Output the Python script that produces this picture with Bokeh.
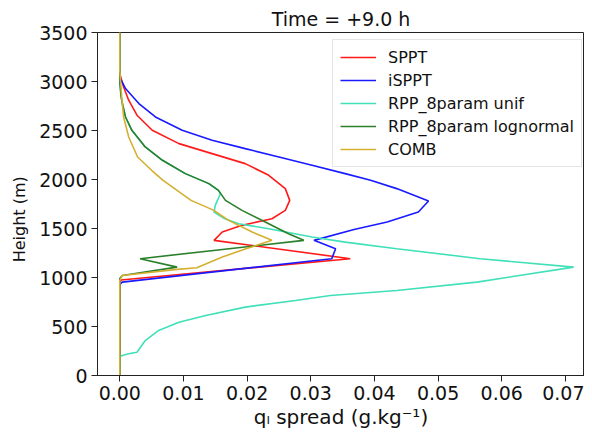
from bokeh.plotting import figure
from bokeh.models import Range1d, FixedTicker, NumeralTickFormatter, Legend, LegendItem
from bokeh.embed import file_html
from bokeh.resources import INLINE

# ---- data ----
sppt_h = [3500, 3080, 2944, 2809, 2656, 2502, 2366, 2264, 2162, 2043, 1907, 1787, 1685, 1600, 1532, 1464, 1379, 1192, 975, 940, 0]
sppt_q = [0, 0, 0.0006, 0.0014, 0.0027, 0.0051, 0.0093, 0.0145, 0.0197, 0.0234, 0.0260, 0.0267, 0.0260, 0.0239, 0.0192, 0.0161, 0.0148, 0.0362, 0.0002, 0, 0]

isppt_h = [3500, 3100, 3030, 2928, 2775, 2638, 2502, 2400, 2315, 2230, 2145, 2060, 1992, 1907, 1780, 1668, 1566, 1490, 1379, 1294, 1192, 953, 930, 0]
isppt_q = [0, 0, 0.0001, 0.0009, 0.0030, 0.0056, 0.0098, 0.0145, 0.0197, 0.0250, 0.0302, 0.0354, 0.0394, 0.0435, 0.0485, 0.0469, 0.0420, 0.0368, 0.0305, 0.0339, 0.0333, 0.0004, 0, 0]

unif_h = [3500, 3000, 2850, 2775, 2638, 2502, 2332, 2196, 2060, 1958, 1889, 1855, 1736, 1668, 1600, 1549, 1498, 1413, 1361, 1294, 1192, 1106, 953, 868, 817, 766, 698, 613, 544, 460, 357, 238, 222, 204, 190, 0]
unif_q = [0, 0, 0.0002, 0.0004, 0.0009, 0.0019, 0.0040, 0.0067, 0.0103, 0.0140, 0.0155, 0.0158, 0.0150, 0.0148, 0.0165, 0.0187, 0.0234, 0.0302, 0.0354, 0.0435, 0.0566, 0.0713, 0.0561, 0.0435, 0.0331, 0.0276, 0.0197, 0.0135, 0.0093, 0.0061, 0.0040, 0.0027, 0.0014, 0.0004, 0, 0]

logn_h = [3500, 3000, 2850, 2775, 2638, 2502, 2332, 2196, 2060, 1958, 1889, 1787, 1685, 1549, 1447, 1379, 1192, 1106, 1021, 990, 0]
logn_q = [0, 0, 0.0002, 0.0004, 0.0009, 0.0019, 0.0040, 0.0067, 0.0103, 0.0140, 0.0155, 0.0166, 0.0192, 0.0234, 0.0265, 0.0289, 0.0032, 0.0090, 0.0004, 0, 0]

comb_h = [3500, 3115, 2843, 2638, 2434, 2230, 2094, 1992, 1787, 1685, 1583, 1464, 1379, 1290, 1209, 1100, 1080, 1021, 970, 0]
comb_q = [0, 0, 0.0003, 0.0006, 0.0014, 0.0028, 0.0050, 0.0068, 0.0112, 0.0148, 0.0171, 0.0208, 0.0239, 0.0197, 0.0161, 0.0121, 0.0086, 0.0004, 0, 0]

labels = ["SPPT", "iSPPT", "RPP_8param unif", "RPP_8param lognormal", "COMB"]
colors = ["#ff1a1a", "#1a1aff", "#40e0b8", "#2a7f2a", "#d4b030"]

x_ticks = [0, 0.01, 0.02, 0.03, 0.04, 0.05, 0.06, 0.07]
y_ticks = [0, 500, 1000, 1500, 2000, 2500, 3000, 3500]

FONT = "DejaVu Sans"

p = figure(width=584, height=431, output_backend="svg", toolbar_location=None,
           x_range=Range1d(-0.0035, 0.0730), y_range=Range1d(0, 3500),
           min_border_left=97, min_border_right=0, min_border_top=32, min_border_bottom=56,
           title="Time = +9.0 h")
p.title.text_font = FONT
p.title.text_font_size = "19px"
p.title.text_font_style = "normal"
p.title.align = "center"
p.title.standoff = 6
p.title.offset = 8
p.title.text_color = "#111111"

p.grid.visible = False
p.outline_line_color = "#222222"
p.outline_line_width = 1

for ax in (p.xaxis[0], p.yaxis[0]):
    ax.major_label_text_font = FONT
    ax.major_label_text_font_size = "19px"
    ax.major_label_text_color = "#111111"
    ax.axis_label_text_font = FONT
    ax.axis_label_text_font_style = "normal"
    ax.axis_label_text_color = "#111111"
    ax.major_tick_in = 0
    ax.major_tick_out = 6
    ax.minor_tick_line_color = None
    ax.axis_line_color = "#222222"
    ax.major_tick_line_color = "#222222"

p.xaxis.ticker = FixedTicker(ticks=x_ticks)
p.xaxis.formatter = NumeralTickFormatter(format="0.00")
p.yaxis.ticker = FixedTicker(ticks=y_ticks)
p.xaxis.axis_label = "q\u2097 spread (g.kg\u207b\u00b9)"
p.xaxis.axis_label_text_font_size = "20px"
p.yaxis.axis_label = "Height (m)" + "\u00a0" * 6
p.yaxis.axis_label_text_font_size = "16px"
p.yaxis.major_label_standoff = 4
p.yaxis.axis_label_standoff = 7
p.xaxis.major_label_standoff = 4
p.xaxis.axis_label_standoff = 2

series = [(sppt_q, sppt_h), (isppt_q, isppt_h), (unif_q, unif_h), (logn_q, logn_h), (comb_q, comb_h)]
items = []
for (q, h), lab, c in zip(series, labels, colors):
    r = p.line(q, h, line_color=c, line_width=1.6)
    items.append(LegendItem(label=lab, renderers=[r]))

legend = Legend(items=items, location=(235, 208))
legend.label_text_font = FONT
legend.label_text_font_size = "16px"
legend.label_text_color = "#111111"
legend.glyph_width = 36
legend.glyph_height = 20
legend.label_height = 20
legend.spacing = 3
legend.padding = 7
legend.margin = 0
legend.label_standoff = 12
legend.border_line_color = "#cccccc"
legend.border_line_width = 1
legend.background_fill_alpha = 0.85
p.add_layout(legend)

open("out.html", "w").write(file_html(p, INLINE))
